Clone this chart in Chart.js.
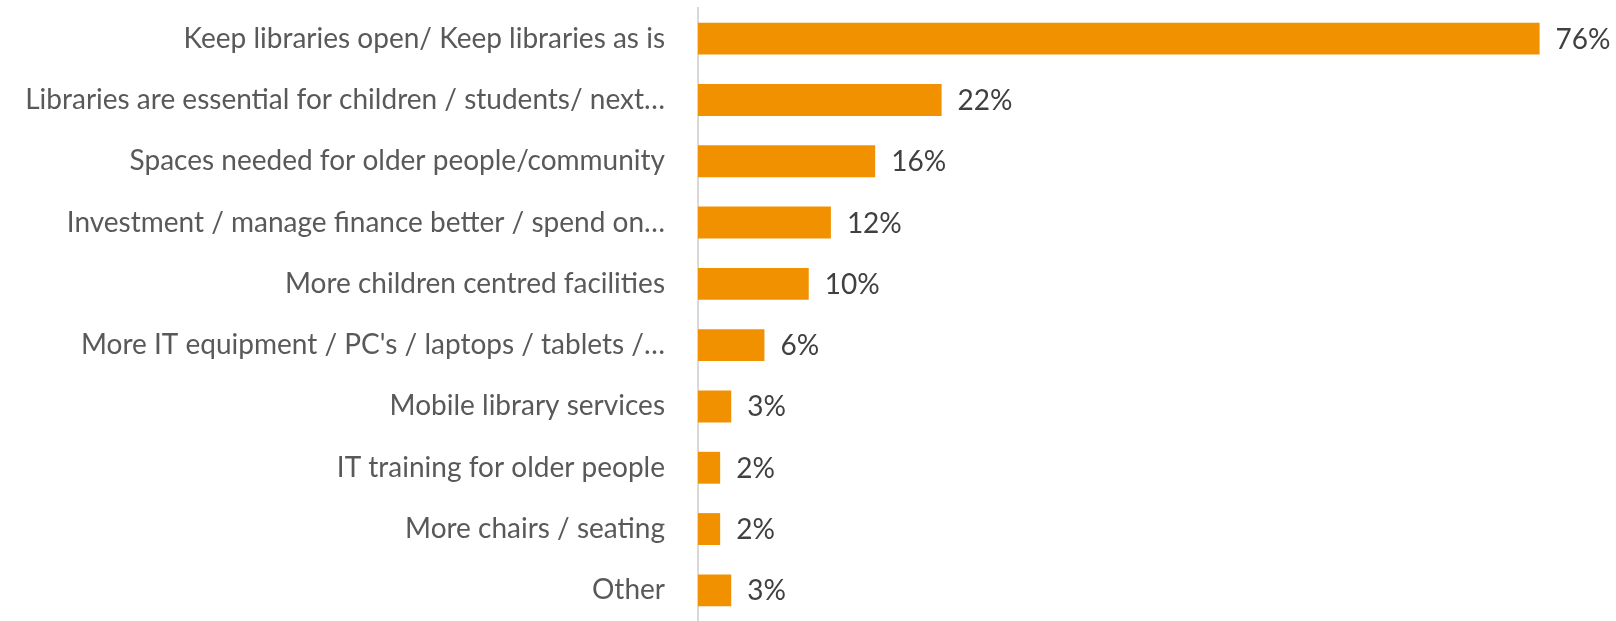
<!DOCTYPE html>
<html>
<head>
<meta charset="utf-8">
<script src="https://cdn.jsdelivr.net/npm/chart.js@4"></script>
<style>
  html, body { margin: 0; padding: 0; background: #fff; }
  #wrap { width: 1616px; height: 621px; }
</style>
</head>
<body>
<div id="wrap"><canvas id="chart"></canvas></div>
<script>
const categories = [
    'Keep libraries open/ Keep libraries as is',
    'Libraries are essential for children / students/ next…',
    'Spaces needed for older people/community',
    'Investment / manage finance better / spend on…',
    'More children centred facilities',
    "More IT equipment / PC's / laptops / tablets /…",
    'Mobile library services',
    'IT training for older people',
    'More chairs / seating',
    'Other'
];
const values = [76, 22, 16, 12, 10, 6, 3, 2, 2, 3];

// value labels to the right of each bar
const barLabels = {
    id: 'barLabels',
    afterDatasetsDraw(chart) {
        const c = chart.ctx;
        const meta = chart.getDatasetMeta(0);
        c.save();
        c.font = '28px Lato';
        c.fillStyle = '#404040';
        c.textBaseline = 'middle';
        c.textAlign = 'left';
        meta.data.forEach((bar, i) => {
            c.fillText(values[i] + '%', bar.x + 16, bar.y + 1);
        });
        c.restore();
    }
};

const ctx = document.getElementById('chart').getContext('2d');
new Chart(ctx, {
    type: 'bar',
    data: {
        labels: categories,
        datasets: [{
            data: values,
            backgroundColor: '#f29100',
            borderWidth: 0,
            barPercentage: 0.52,
            categoryPercentage: 1
        }]
    },
    options: {
        indexAxis: 'y',
        responsive: true,
        maintainAspectRatio: false,
        animation: false,
        layout: { padding: { top: 8, bottom: -3, left: 0, right: 0 } },
        plugins: {
            legend: { display: false },
            tooltip: { enabled: false }
        },
        scales: {
            x: {
                display: false,
                min: 0,
                max: 82.9
            },
            y: {
                grid: { display: false },
                border: { display: true, color: '#d9d9d9', width: 2 },
                ticks: {
                    color: '#595959',
                    padding: 25,
                    font: { family: 'Lato', size: 28 }
                },
                afterFit(scale) {
                    scale.width = 698;
                    scale.paddingTop = 0;
                    scale.paddingBottom = 0;
                }
            }
        }
    },
    plugins: [barLabels]
});
</script>
</body>
</html>
